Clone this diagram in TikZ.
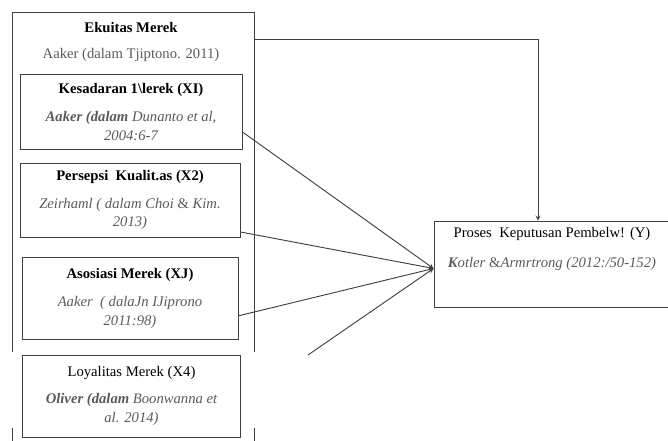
\documentclass[tikz,border=0pt]{standalone}
\usepackage{fontspec}
\setmainfont{Liberation Serif}
\usepackage{xcolor}
\usetikzlibrary{arrows,positioning}
\definecolor{citegray}{HTML}{5A5A5A}
\begin{document}
\begin{tikzpicture}[x=0.75pt,y=-0.75pt,
box/.style={draw=black!75,line width=0.7pt,inner sep=0pt,align=center,
  font=\fontsize{11}{14}\selectfont},
txt/.style={align=center,inner sep=0pt,font=\fontsize{11}{14}\selectfont},
>=stealth]
\useasboundingbox (0,0) rectangle (668,441);
\draw[black!75,line width=0.7pt] (12,352) |- (254,12) -- (254,352);
\draw[black!75,line width=0.7pt] (12,428) -- (12,445) (254,428) -- (254,445);
\node[txt] (ekuitas) at (131,28) {\textbf{Ekuitas Merek}};
\node[txt,text=citegray] (tjiptono) at (131,55) {Aaker (dalam Tjiptono. 2011)};
\node[box,minimum width=166.5pt,minimum height=56pt] (x1) at (131,112)
  {\textbf{Kesadaran 1\textbackslash lerek (XI)}\\[7pt]
   {\color{citegray}\itshape\textbf{Aaker (dalam} Dunanto et al,}\\
   {\color{citegray}\itshape 2004:6-7}};
\node[box,minimum width=165pt,minimum height=55.5pt] (x2) at (130,200)
  {\textbf{Persepsi\ \ Kualit.as (X2)}\\[7pt]
   {\color{citegray}\itshape Zeirhaml ( dalam Choi \textup{\&} Kim.}\\
   {\color{citegray}\itshape 2013)}};
\node[box,minimum width=162pt,minimum height=62pt] (x3) at (130,298.5)
  {\textbf{Asosiasi Merek (XJ)}\\[7pt]
   {\color{citegray}\itshape Aaker\ \ ( dalaJn IJiprono}\\
   {\color{citegray}\itshape 2011:98)}};
\node[box,minimum width=163pt,minimum height=61.5pt] (x4) at (131.5,396)
  {Loyalitas Merek (X4)\\[6pt]
   {\color{citegray}\itshape\textbf{Oliver (dalam} Boonwanna et}\\
   {\color{citegray}\itshape al. 2014)}};
\node[box,minimum width=177pt,minimum height=65pt] (y) at (552,264.5) {};
\node[txt,anchor=north] (ytext) at ([yshift=-5pt]y.north)
  {Proses\ \ Keputusan Pembelw! (Y)\\[8pt]
   {\color{citegray}\itshape\textbf{K}otler \textup{\&}Armrtrong (2012:/50-152)}};
\coordinate (ek) at (254,39);
\coordinate (x4line) at (308,355);
\draw[->,black!75,line width=0.7pt] (ek) -| ([xshift=-10.5pt]y.north);
\path[->,black!75,line width=0.7pt] ([yshift=-15pt]x1.east) edge ([yshift=-3pt]y.west);
\path[->,black!75,line width=0.7pt] ([yshift=-24pt]x2.east) edge ([yshift=-3pt]y.west);
\path[->,black!75,line width=0.7pt] ([yshift=-13pt]x3.east) edge ([yshift=-3pt]y.west);
\path[->,black!75,line width=0.7pt] (x4line) edge ([yshift=-3pt]y.west);
\end{tikzpicture}
\end{document}
